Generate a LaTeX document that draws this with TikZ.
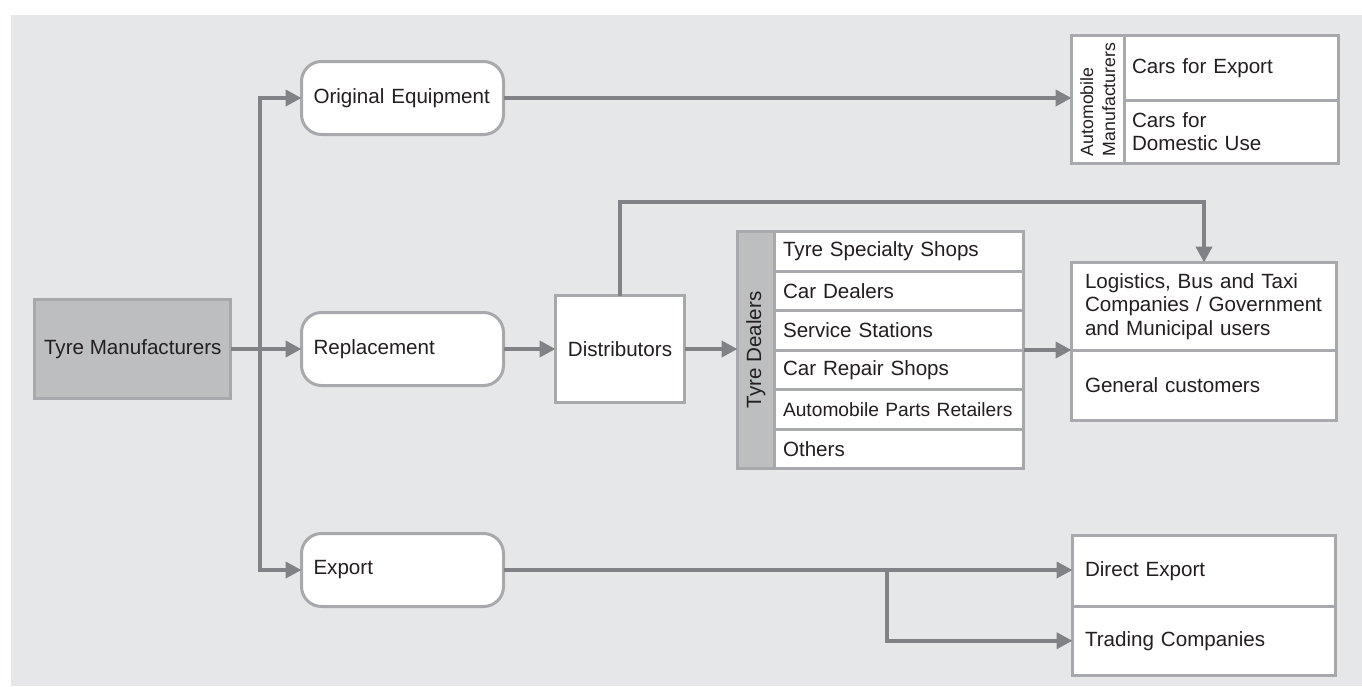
\documentclass[tikz,border=0pt]{standalone}
\usepackage{fontspec}
\setmainfont{Liberation Sans}
\usetikzlibrary{arrows.meta}
\definecolor{bgcol}{HTML}{E6E7E8}
\definecolor{boxline}{HTML}{A7A9AC}
\definecolor{darkfill}{HTML}{BCBEC0}
\definecolor{arrowgray}{HTML}{808285}
\definecolor{ink}{HTML}{231F20}
\newcommand\mainfs{\fontsize{20.6}{23.5}\selectfont}
\newcommand\smallfs{\fontsize{19.2}{22}\selectfont}
\newcommand\bandfs{\fontsize{17.7}{22}\selectfont}
\tikzset{
  box/.style={draw=boxline, line width=3pt, fill=white, inner sep=0pt, outer sep=0pt,
    font=\mainfs, text=ink},
  roundbox/.style={box, rounded corners=20pt, minimum width=202pt, minimum height=73pt,
    text width=178pt, align=left},
  cell/.style={box, anchor=north west, align=left},
  conn/.style={draw=arrowgray, line width=4pt, -{Triangle[length=16pt,width=16pt]}}
}
\begin{document}
\begin{tikzpicture}[x=1pt,y=-1pt]
\useasboundingbox (0,0) rectangle (1362,686);
\fill[bgcol] (11,15) rectangle (1362,686);

% source and the three channels
\node[box, fill=darkfill, minimum width=196pt, minimum height=99pt] (tm) at (132.75,349) {Tyre Manufacturers};
\node[roundbox] (oe) at (402.5,98) {Original Equipment};
\node[roundbox] (rep) at (402.5,349) {Replacement};
\node[roundbox] (exp) at (402.5,570) {Export};

% distributors
\node[box, minimum width=129pt, minimum height=107pt] (dist) at (620,349) {Distributors};

% tyre dealers table
\node[box, fill=darkfill, rotate=90, minimum width=237pt, minimum height=36.5pt] (tdband) at (755.75,350) {Tyre Dealers};
\node[cell, minimum width=249.5pt, minimum height=39.5pt, text width=231.5pt] (td1) at (774,231.5) {Tyre Specialty Shops};
\node[cell, minimum width=249.5pt, minimum height=39.5pt, text width=231.5pt] (td2) at (774,271) {Car Dealers};
\node[cell, minimum width=249.5pt, minimum height=39.5pt, text width=231.5pt] (td3) at (774,310.5) {Service Stations};
\node[cell, minimum width=249.5pt, minimum height=39.5pt, text width=231.5pt] (td4) at (774,350) {Car Repair Shops};
\node[cell, minimum width=249.5pt, minimum height=39.5pt, text width=231.5pt, font=\smallfs] (td5) at (774,389.5) {\mbox{Automobile Parts Retailers}};
\node[cell, minimum width=249.5pt, minimum height=39.5pt, text width=231.5pt] (td6) at (774,429) {Others};

% end users
\node[cell, minimum width=265pt, minimum height=87.5pt, text width=238pt] (log1) at (1071.5,262.5)
  {Logistics, Bus and Taxi\\\mbox{Companies / Government}\\and Municipal users};
\node[cell, minimum width=265pt, minimum height=70.5pt, text width=238pt] (log2) at (1071.5,350) {General customers};

% automobile manufacturers table
\node[box, rotate=90, minimum width=128pt, minimum height=52.5pt, text width=113pt, align=left, font=\bandfs] (aband) at (1097.75,99.5)
  {Automobile\\Manufacturers};
\node[cell, minimum width=214.5pt, minimum height=64.5pt, text width=198.5pt] (am1) at (1124,35.5) {Cars for Export};
\node[cell, minimum width=214.5pt, minimum height=63.5pt, text width=198.5pt] (am2) at (1124,100) {Cars for\\Domestic Use};

% export destinations
\node[cell, minimum width=263pt, minimum height=70.5pt, text width=238pt] (de1) at (1072.5,535.5) {Direct Export};
\node[cell, minimum width=263pt, minimum height=69.5pt, text width=238pt] (de2) at (1072.5,606) {Trading Companies};

% connectors
\coordinate (trunk) at (260,349);
\coordinate (over) at (900,202);
\coordinate (split) at (887,570);
\draw[conn] (tm.east) -- (rep.west);
\draw[conn] (trunk) |- (oe.west);
\draw[conn] (trunk) |- (exp.west);
\draw[conn] (oe.east) -- (oe.east -| aband.north);
\draw[conn] (rep.east) -- (dist.west);
\draw[conn] (dist.east) -- (dist.east -| tdband.north);
\draw[conn] (dist.north) |- (over) -| (log1.north);
\draw[conn] (td3.south east) -- (log1.south west);
\draw[conn] (exp.east) -- (exp.east -| de1.west);
\draw[conn] (split) |- (de2.west);
\end{tikzpicture}
\end{document}
